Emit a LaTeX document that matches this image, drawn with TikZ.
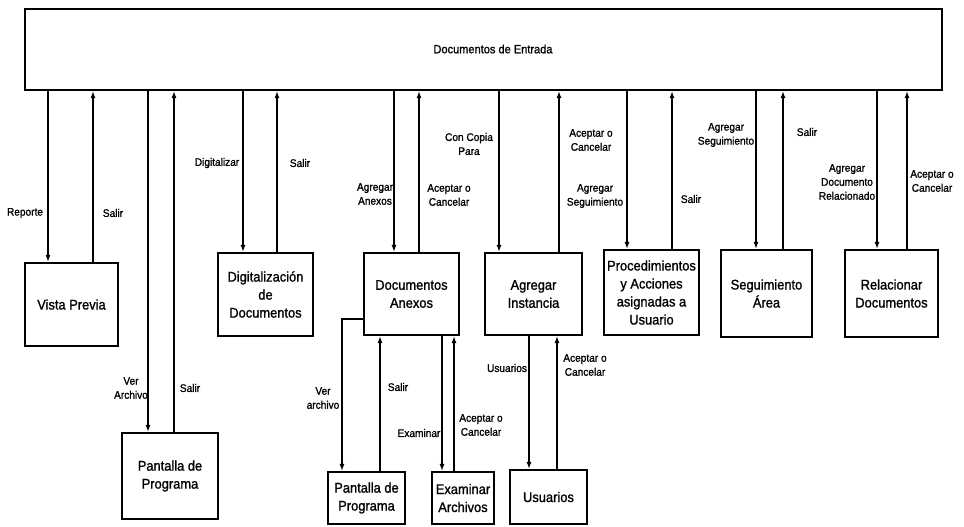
\documentclass[tikz,border=0pt]{standalone}
\usepackage{fontspec}
\setmainfont[FakeStretch=0.92,FakeBold=1.2]{Liberation Sans}
\usetikzlibrary{arrows.meta}
\begin{document}
\begin{tikzpicture}[x=1pt,y=-1pt,
  box/.style={draw, line width=2.2pt, align=center, inner sep=1pt,
    font=\fontsize{14}{18}\selectfont},
  lbl/.style={inner sep=0pt, align=center, font=\fontsize{11}{14}\selectfont},
  flow/.style={line width=1.2pt, -{Latex[length=7pt,width=5pt]}}]
\useasboundingbox (0,0) rectangle (964,527);
\fill[white] (0,0) rectangle (964,527);

% main screen
\node[box, minimum width=917pt, minimum height=81pt] (top) at (483.5,49.5) {};
\node[inner sep=0pt, font=\fontsize{12}{14}\selectfont] (title) at (493,49) {Documentos de Entrada};

% first-level screens
\node[box, minimum width=93pt, minimum height=83pt] (vp)   at (71.5,304.5) {Vista Previa};
\node[box, minimum width=96pt, minimum height=86pt] (pp1)  at (170,476)    {Pantalla de\\Programa};
\node[box, minimum width=95pt, minimum height=83pt] (dig)  at (265.5,294.5) {Digitalización\\de\\Documentos};
\node[box, minimum width=95pt, minimum height=82pt] (da)   at (411.5,294)  {Documentos\\Anexos};
\node[box, minimum width=97pt, minimum height=82pt] (ai)   at (533.5,294)  {Agregar\\Instancia};
\node[box, minimum width=95pt, minimum height=85pt] (proc) at (651.5,292.5) {Procedimientos\\y Acciones\\asignadas a\\Usuario};
\node[box, minimum width=91pt, minimum height=87pt] (seg)  at (766.5,293.5) {Seguimiento\\Área};
\node[box, minimum width=93pt, minimum height=87pt] (rel)  at (891.5,293.5) {Relacionar\\Documentos};

% second-level screens
\node[box, minimum width=77pt, minimum height=52pt] (pp2) at (366.5,498) {Pantalla de\\Programa};
\node[box, minimum width=62pt, minimum height=52pt, inner sep=0pt] (ex) at (463,498) {Examinar\\Archivos};
\node[box, minimum width=77pt, minimum height=54pt] (us)  at (548.5,497) {Usuarios};

% connector columns
\foreach \n/\x in {a/48, b/93, c/148, d/174, e/243, f/277, g/394, h/419,
                   i/499, j/559, k/627, l/672, m/756, n/783, o/877, p/907,
                   q/342, r/380, s/442, t/454, u/529, v/557}
  \coordinate (c\n) at (\x,0);
\coordinate (rowpp) at (0,319);

% main screen <-> first level
\draw[flow] (top.south -| ca) -- (vp.north -| ca);
\draw[flow] (vp.north -| cb) -- (top.south -| cb);
\draw[flow] (top.south -| cc) -- (pp1.north -| cc);
\draw[flow] (pp1.north -| cd) -- (top.south -| cd);
\draw[flow] (top.south -| ce) -- (dig.north -| ce);
\draw[flow] (dig.north -| cf) -- (top.south -| cf);
\draw[flow] (top.south -| cg) -- (da.north -| cg);
\draw[flow] (da.north -| ch) -- (top.south -| ch);
\draw[flow] (top.south -| ci) -- (ai.north -| ci);
\draw[flow] (ai.north -| cj) -- (top.south -| cj);
\draw[flow] (top.south -| ck) -- (proc.north -| ck);
\draw[flow] (proc.north -| cl) -- (top.south -| cl);
\draw[flow] (top.south -| cm) -- (seg.north -| cm);
\draw[flow] (seg.north -| cn) -- (top.south -| cn);
\draw[flow] (top.south -| co) -- (rel.north -| co);
\draw[flow] (rel.north -| cp) -- (top.south -| cp);

% first level <-> second level
\draw[flow] (da.west |- rowpp) -| (pp2.north -| cq);
\draw[flow] (pp2.north -| cr) -- (da.south -| cr);
\draw[flow] (da.south -| cs) -- (ex.north -| cs);
\draw[flow] (ex.north -| ct) -- (da.south -| ct);
\draw[flow] (ai.south -| cu) -- (us.north -| cu);
\draw[flow] (us.north -| cv) -- (ai.south -| cv);

% connector labels
\node[lbl] (t1)  at (25,213)  {Reporte};
\node[lbl] (t2)  at (113,213) {Salir};
\node[lbl] (t3)  at (131,388) {Ver\\Archivo};
\node[lbl] (t4)  at (190,388) {Salir};
\node[lbl] (t5)  at (217,163) {Digitalizar};
\node[lbl] (t6)  at (300,163) {Salir};
\node[lbl] (t7)  at (375,194) {Agregar\\Anexos};
\node[lbl] (t8)  at (449,195) {Aceptar o\\Cancelar};
\node[lbl] (t9)  at (469,144) {Con Copia\\Para};
\node[lbl] (t10) at (591,140) {Aceptar o\\Cancelar};
\node[lbl] (t11) at (595,196) {Agregar\\Seguimiento};
\node[lbl] (t12) at (691,199) {Salir};
\node[lbl] (t13) at (726,135) {Agregar\\Seguimiento};
\node[lbl] (t14) at (807,132) {Salir};
\node[lbl] (t15) at (847,182) {Agregar\\Documento\\Relacionado};
\node[lbl] (t16) at (932,181) {Aceptar o\\Cancelar};
\node[lbl] (t17) at (323,398) {Ver\\archivo};
\node[lbl] (t18) at (398,387) {Salir};
\node[lbl] (t19) at (419,433) {Examinar};
\node[lbl] (t20) at (481,425) {Aceptar o\\Cancelar};
\node[lbl] (t21) at (507,368) {Usuarios};
\node[lbl] (t22) at (585,365) {Aceptar o\\Cancelar};
\end{tikzpicture}
\end{document}
